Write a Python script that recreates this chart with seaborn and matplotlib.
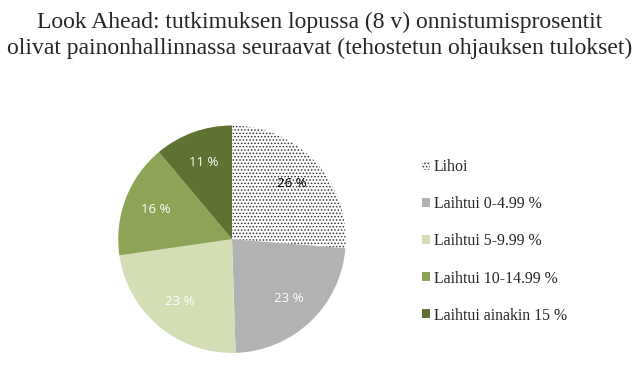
import seaborn as sns
from matplotlib import pyplot as plt

categories = ['Lihoi', 'Laihtui 0-4.99 %', 'Laihtui 5-9.99 %',
              'Laihtui 10-14.99 %', 'Laihtui ainakin 15 %']
shares = [26, 23, 23, 16, 11]
colors = ['#ffffff', '#b2b2b2', '#d4deb4', '#8da457', '#5d7233']
label_colors = ['black', 'white', 'white', 'white', 'white']
title = ('Look Ahead: tutkimuksen lopussa (8 v) onnistumisprosentit\n'
         'olivat painonhallinnassa seuraavat (tehostetun ohjauksen tulokset)')

sns.set_style('white')
plt.rcParams['hatch.linewidth'] = 0.7

fig = plt.figure(figsize=(6.4, 3.72), dpi=100)
ax = fig.add_axes([0.183, 0.048, 0.359, 0.618])

wedges, texts = ax.pie(
    shares, colors=colors, startangle=90, counterclock=False,
    labels=[f'{v} %' for v in shares], labeldistance=0.72,
    wedgeprops={'linewidth': 0},
    textprops={'fontsize': 9.5, 'family': 'Open Sans'},
)
wedges[0].set_hatch('.....')
wedges[0].set_edgecolor('#333333')
wedges[0].set_linewidth(0)
for t, c in zip(texts, label_colors):
    t.set_color(c)
    t.set_horizontalalignment('center')
    t.set_verticalalignment('center')
ax.set_xlim(-1.01, 1.01)
ax.set_ylim(-1.01, 1.01)

leg = fig.legend(wedges, categories, loc='upper left', bbox_to_anchor=(0.637, 0.61),
                 frameon=False, handlelength=0.5, handleheight=0.5,
                 handletextpad=0.25, labelspacing=1.33,
                 prop={'family': 'Liberation Serif', 'size': 11.4})

fig.text(0.5, 0.968, title, ha='center', va='top', family='Liberation Serif',
         fontsize=17, linespacing=1.32)

fig.savefig('out.png', dpi=100)
